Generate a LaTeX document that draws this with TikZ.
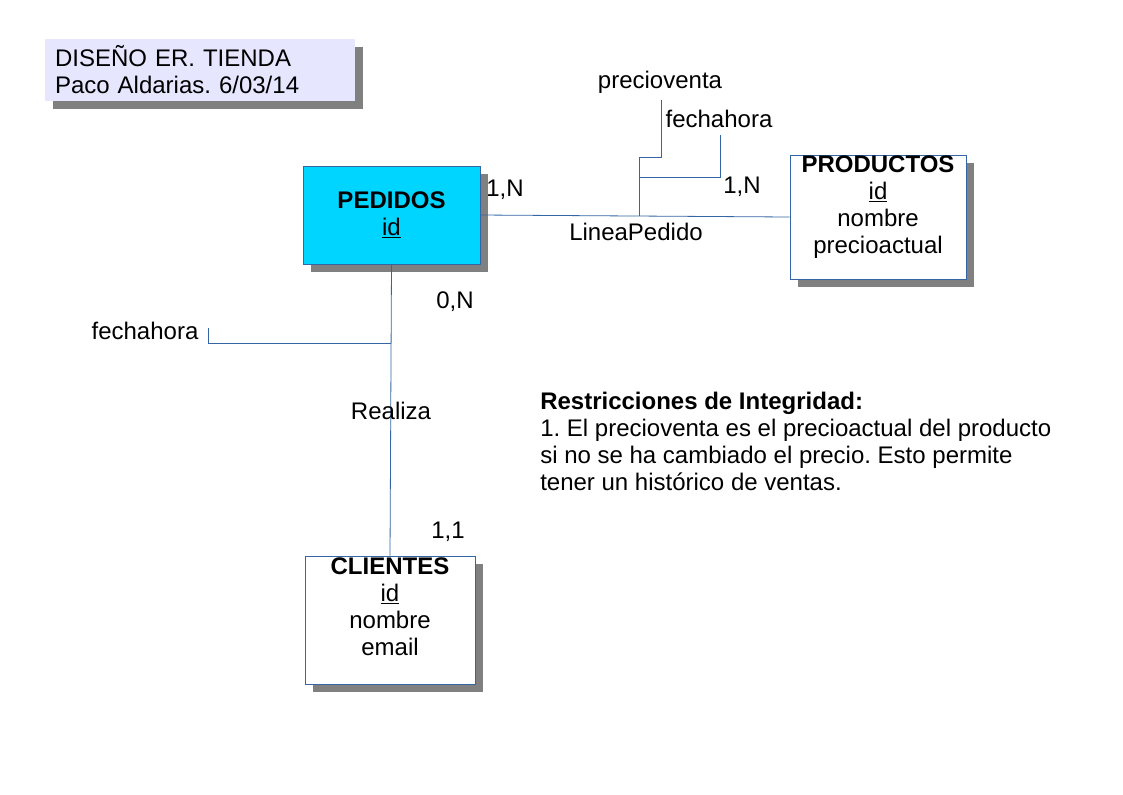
\documentclass[tikz,border=0pt]{standalone}
\usepackage{fontspec}
\setmainfont{Liberation Sans}
\usepackage{tikz}
\usetikzlibrary{positioning,shadows}
\usepackage{xcolor}
\definecolor{erline}{HTML}{3465A4}
\definecolor{erpedido}{HTML}{00D5FF}
\definecolor{ertitle}{HTML}{E6E6FF}
\frenchspacing

\begin{document}
\begin{tikzpicture}[x=0.75pt,y=-0.75pt,
  every node/.style={font=\fontsize{18}{20.25}\selectfont,inner sep=0pt},
  boxshadow/.style={drop shadow={shadow xshift=5.75pt,shadow yshift=-5.75pt,fill=black!50,opacity=1}},
  entity/.style={draw=erline,line width=0.6pt,fill=white,boxshadow},
  conn/.style={draw=erline,line width=0.6pt}]
\useasboundingbox (0,0) rectangle (1123,794);
% title block
\node[fill=ertitle,boxshadow,text width=217.5pt,inner xsep=7.5pt,minimum height=46.5pt,align=left] (title) at (200,70) {DISEÑO ER. TIENDA\\Paco Aldarias. 6/03/14};
% entities
\node[entity,fill=erpedido,minimum width=132.75pt,minimum height=73.5pt,align=center] (ped) at (391.5,215) {\textbf{PEDIDOS}\\\underline{id}};
\node[entity,minimum width=132pt,minimum height=93pt] (prod) at (878,217) {};
\node[below=0.5pt of prod.north,align=center] (prodtxt) {\textbf{PRODUCTOS}\\\underline{id}\\nombre\\precioactual};
\node[entity,minimum width=127.5pt,minimum height=96pt] (cli) at (390,620) {};
\node[below=1.25pt of cli.north,align=center] (clitxt) {\textbf{CLIENTES}\\\underline{id}\\nombre\\email};
% relationships
\draw[conn] (ped.east) -- (prod.west);
\draw[conn] (ped.south) -- (cli.north);
\node (lplbl) at (636,232) {LineaPedido};
\node (rzlbl) at (391,411) {Realiza};
% attributes of the relationships
\coordinate (lpjoin) at (639,216);
\coordinate (pvend) at (661,100);
\coordinate (fhjoin) at (639,177);
\coordinate (fhend) at (720,135);
\coordinate (rzjoin) at (391,343);
\coordinate (fcend) at (208,328);
\draw[conn] (lpjoin) -- ++(0,-59) -| (pvend);
\draw[conn] (fhjoin) -| (fhend);
\draw[conn] (rzjoin) -| (fcend);
\node (pvlbl) at (660,82) {precioventa};
\node (fhlbl) at (719,119) {fechahora};
\node (fclbl) at (145,331) {fechahora};
% cardinalities
\node (cardped) at (505,190) {1,N};
\node (cardprod) at (742,187) {1,N};
\node (cardreal) at (455,302) {0,N};
\node (cardcli) at (448,532) {1,1};
% integrity note
\node[anchor=north west,align=left] (restr) at (540,392) {\textbf{Restricciones de Integridad:}\\1. El precioventa es el precioactual del producto\\si no se ha cambiado el precio. Esto permite\\tener un histórico de ventas.};
\end{tikzpicture}
\end{document}
